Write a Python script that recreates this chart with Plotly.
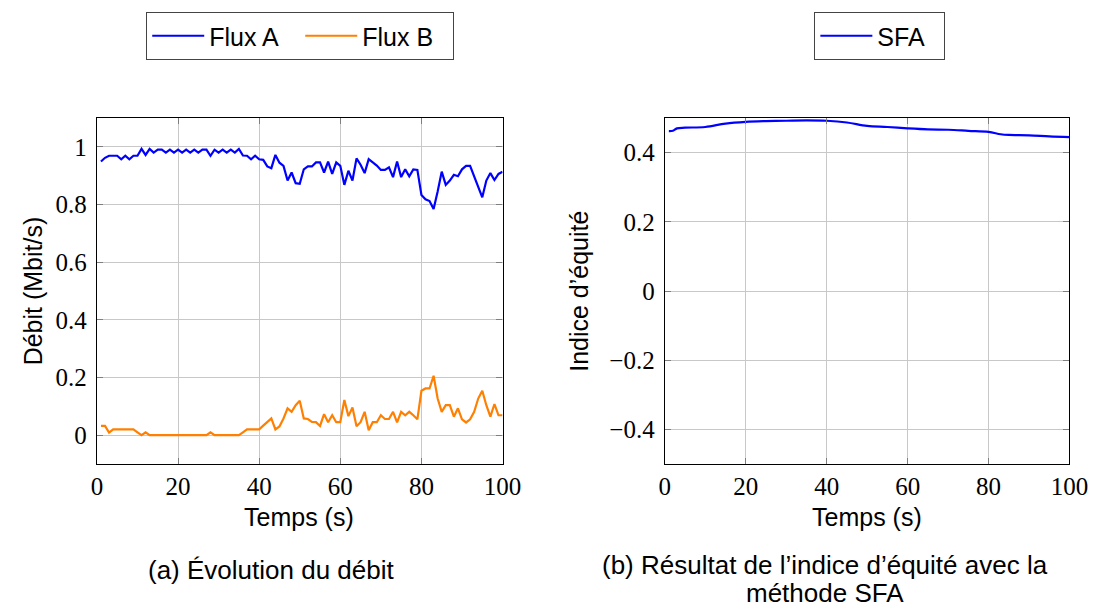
import plotly.graph_objects as go

# ---- Data ----
temps = list(range(1, 101))

flux_a = [0.949, 0.962, 0.969, 0.969, 0.969, 0.957, 0.969, 0.957, 0.969, 0.969,
          0.993, 0.972, 0.993, 0.980, 0.990, 0.990, 0.980, 0.990, 0.980, 0.990,
          0.980, 0.990, 0.980, 0.990, 0.980, 0.990, 0.990, 0.969, 0.990, 0.980,
          0.990, 0.980, 0.990, 0.980, 0.993, 0.970, 0.969, 0.957, 0.969, 0.957,
          0.955, 0.932, 0.926, 0.972, 0.945, 0.934, 0.883, 0.911, 0.874, 0.872,
          0.922, 0.932, 0.932, 0.946, 0.946, 0.911, 0.949, 0.906, 0.946, 0.934,
          0.868, 0.917, 0.883, 0.960, 0.938, 0.909, 0.957, 0.946, 0.935, 0.920,
          0.920, 0.929, 0.895, 0.949, 0.895, 0.922, 0.898, 0.922, 0.920, 0.833,
          0.818, 0.812, 0.784, 0.845, 0.914, 0.868, 0.883, 0.903, 0.898, 0.922,
          0.934, 0.934, 0.898, 0.860, 0.825, 0.883, 0.909, 0.885, 0.906, 0.914]

flux_b = [0.032, 0.032, 0.009, 0.020, 0.020, 0.020, 0.020, 0.020, 0.020, 0.010,
          0.000, 0.010, 0.000, 0.000, 0.000, 0.000, 0.000, 0.000, 0.000, 0.000,
          0.000, 0.000, 0.000, 0.000, 0.000, 0.000, 0.000, 0.010, 0.000, 0.000,
          0.000, 0.000, 0.000, 0.000, 0.000, 0.010, 0.020, 0.020, 0.020, 0.020,
          0.033, 0.045, 0.058, 0.020, 0.030, 0.058, 0.093, 0.081, 0.104, 0.119,
          0.058, 0.056, 0.046, 0.045, 0.032, 0.073, 0.045, 0.069, 0.045, 0.045,
          0.122, 0.066, 0.096, 0.031, 0.045, 0.081, 0.017, 0.045, 0.045, 0.069,
          0.056, 0.056, 0.081, 0.044, 0.081, 0.069, 0.081, 0.069, 0.055, 0.154,
          0.162, 0.162, 0.206, 0.127, 0.081, 0.104, 0.104, 0.064, 0.093, 0.055,
          0.044, 0.055, 0.081, 0.127, 0.154, 0.104, 0.064, 0.108, 0.069, 0.069]

sfa_temps = [1, 2, 3, 5, 10, 15, 20, 25, 30, 35, 40, 45, 50, 55, 60, 65, 70, 75,
             80, 83, 85, 90, 95, 100]
sfa_vals = [0.462, 0.463, 0.470, 0.472, 0.474, 0.484, 0.489, 0.491, 0.492, 0.493,
            0.492, 0.487, 0.477, 0.474, 0.470, 0.467, 0.466, 0.463, 0.460, 0.453,
            0.451, 0.450, 0.447, 0.445]

x_ticks = [0, 20, 40, 60, 80, 100]
left_y_ticks = [0, 0.2, 0.4, 0.6, 0.8, 1]
left_y_labels = ["0", "0.2", "0.4", "0.6", "0.8", "1"]
right_y_ticks = [-0.4, -0.2, 0, 0.2, 0.4]
right_y_labels = ["\u22120.4", "\u22120.2", "0", "0.2", "0.4"]

# ---- Styling ----
W, H = 1110, 610
BLUE = "#0000ff"
ORANGE = "#ff8000"
SANS = "Liberation Sans"
SERIF = "Liberation Serif"


def px_x(p):
    return p / W


def px_y(p):
    return 1 - p / H


fig = go.Figure()

fig.add_trace(go.Scatter(x=temps, y=flux_a, mode="lines", name="Flux A",
                         line=dict(color=BLUE, width=2.2), xaxis="x", yaxis="y",
                         legend="legend"))
fig.add_trace(go.Scatter(x=temps, y=flux_b, mode="lines", name="Flux B",
                         line=dict(color=ORANGE, width=2.2), xaxis="x", yaxis="y",
                         legend="legend"))
fig.add_trace(go.Scatter(x=sfa_temps, y=sfa_vals, mode="lines", name="SFA",
                         line=dict(color=BLUE, width=2.2, shape="spline"),
                         xaxis="x2", yaxis="y2", legend="legend2"))


def axis_style(standoff):
    return dict(
        showline=True, linecolor="black", linewidth=1.3, mirror="ticks",
        ticks="inside", ticklen=6, tickcolor="#7f7f7f", tickwidth=1,
        showgrid=True, gridcolor="#c8c8c8", gridwidth=1, zeroline=False,
        tickfont=dict(family=SERIF, size=25, color="black"),
        ticklabelstandoff=standoff,
    )


y0, y1 = px_y(464), px_y(118)

legend_common = dict(orientation="h", y=px_y(12), xanchor="center",
                     yanchor="top", bordercolor="#444444", borderwidth=1,
                     bgcolor="white", font=dict(family=SANS, size=25, color="black"),
                     itemwidth=52, entrywidthmode="pixels")

fig.update_layout(
    width=W, height=H,
    margin=dict(l=0, r=0, t=0, b=0),
    paper_bgcolor="white", plot_bgcolor="white",
    font=dict(family=SANS, size=24, color="black"),
    showlegend=True,
    xaxis=dict(domain=[px_x(93), px_x(508)], range=[0, 100], tickvals=x_ticks,
               anchor="y", **axis_style(0)),
    yaxis=dict(domain=[y0, y1], range=[-0.1, 1.1], tickvals=left_y_ticks,
               ticktext=left_y_labels, anchor="x", **axis_style(4)),
    xaxis2=dict(domain=[px_x(674), px_x(1088)], range=[0, 100], tickvals=x_ticks,
                anchor="y2", **axis_style(0)),
    yaxis2=dict(domain=[y0, y1], range=[-0.5, 0.5], tickvals=right_y_ticks,
                ticktext=right_y_labels, anchor="x2", **axis_style(4)),
    legend=dict(x=px_x(301), entrywidth=86, **legend_common),
    legend2=dict(x=px_x(894), entrywidth=62, **legend_common),
)

title_font = dict(family=SANS, size=25, color="black")
cap_font = dict(family=SANS, size=26, color="black")
annotations = [
    dict(text="Temps (s)", x=px_x(300), y=px_y(517), xref="paper", yref="paper",
         showarrow=False, font=title_font, xanchor="center", yanchor="middle"),
    dict(text="Temps (s)", x=px_x(881), y=px_y(517), xref="paper", yref="paper",
         showarrow=False, font=title_font, xanchor="center", yanchor="middle"),
    dict(text="Débit (Mbit/s)", x=px_x(28), y=px_y(291), xref="paper", yref="paper",
         showarrow=False, font=title_font, textangle=-90, xanchor="center",
         yanchor="middle"),
    dict(text="Indice d\u2019équité", x=px_x(586), y=px_y(291), xref="paper",
         yref="paper", showarrow=False, font=title_font, textangle=-90,
         xanchor="center", yanchor="middle"),
    dict(text="(a) Évolution du débit", x=px_x(271), y=px_y(570), xref="paper",
         yref="paper", showarrow=False, font=cap_font, xanchor="center",
         yanchor="middle"),
    dict(text="(b) Résultat de l\u2019indice d\u2019équité avec la",
         x=px_x(838), y=px_y(565), xref="paper", yref="paper", showarrow=False,
         font=cap_font, xanchor="center", yanchor="middle"),
    dict(text="méthode SFA",
         x=px_x(838), y=px_y(593), xref="paper", yref="paper", showarrow=False,
         font=cap_font, xanchor="center", yanchor="middle"),
]
fig.update_layout(annotations=annotations)

fig.write_html("out.html")
